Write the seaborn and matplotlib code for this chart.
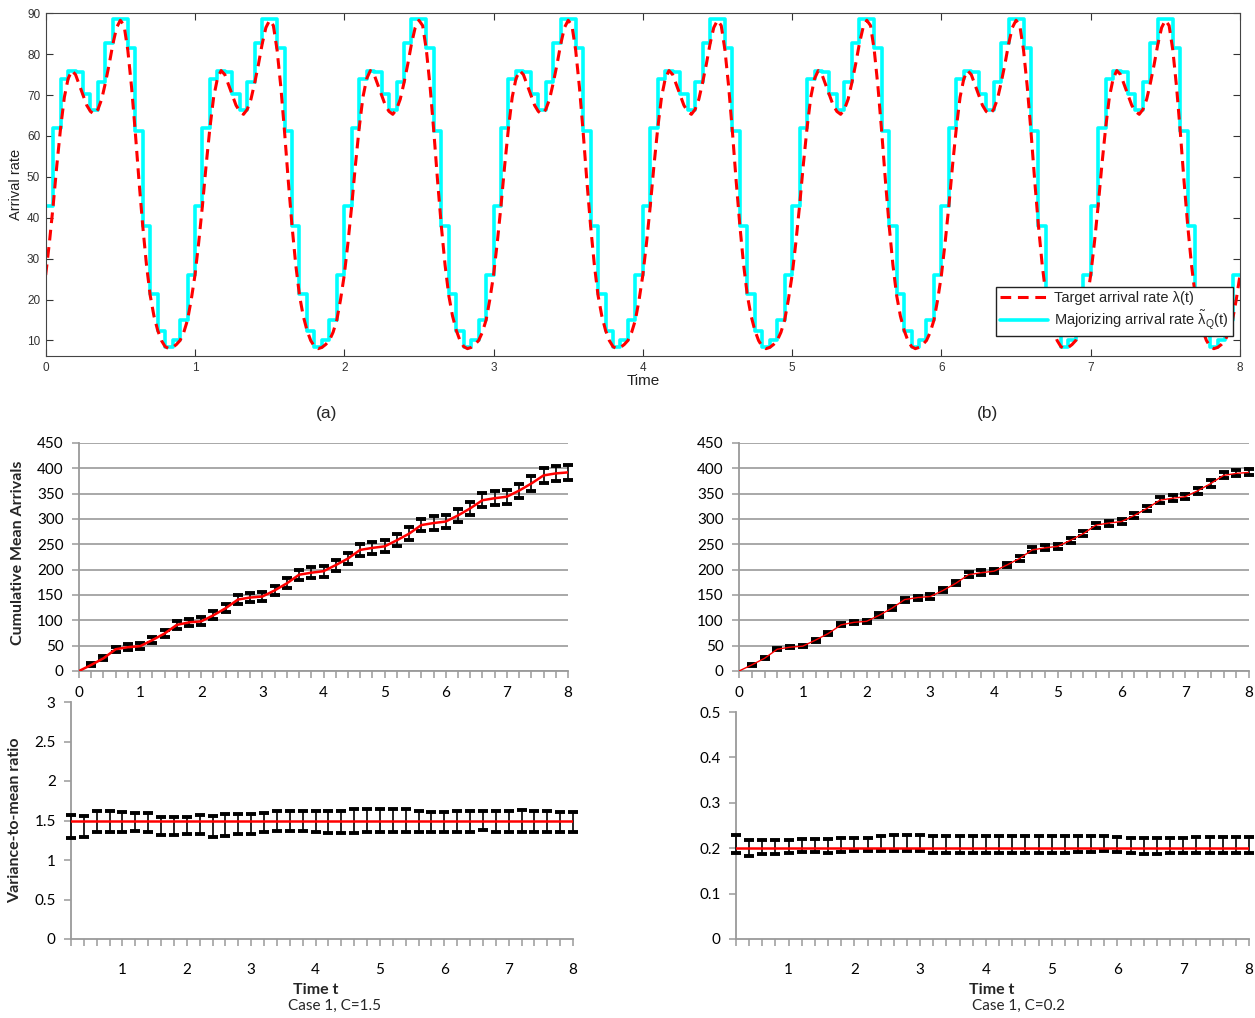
import numpy as np
import pandas as pd
import matplotlib
matplotlib.use("Agg")
import matplotlib.pyplot as plt
import seaborn as sns

sns.set_theme(style="white")
plt.rcParams['font.family'] = ['Liberation Sans', 'DejaVu Sans']
plt.rcParams['mathtext.default'] = 'regular'

#### data ####
# target arrival rate over one period, every 0.025 time units
lam_period = [26, 34, 43, 53, 62, 69.5, 74, 76, 75, 72.5,
              70, 67.5, 66, 65.3, 66.5, 69, 73, 77.5, 82.5, 86.5,
              88.3, 87, 81, 72, 61, 49, 38, 28.5, 21, 16,
              12.5, 10, 8.5, 8, 8.3, 9, 10, 12, 15, 20]
# majorizing step rate over one period, one value per 0.05 step
maj_period = [43, 62, 74, 76, 75.6, 70.2, 66.4, 73.1, 82.8, 88.6,
              88.6, 81.4, 61.1, 37.9, 21.3, 12.4, 8.5, 10, 15, 26]
n_periods = 8

# bottom panels: time points 0.2 .. 8.0
times = [round(0.2 * k, 1) for k in range(1, 41)]
cum_mean = [12, 25, 43, 47, 49, 61, 74, 91, 96, 98,
            110, 124, 141, 145, 147, 159, 173, 190, 194, 197,
            209, 222, 239, 243, 246, 258, 271, 288, 292, 295,
            307, 321, 337, 341, 344, 356, 370, 386, 390, 392]
cum_err_c15 = [3, 4, 5, 5.5, 6, 6.5, 7, 7.5, 7.5, 8,
               8, 8.5, 9, 9, 9.5, 9.5, 10, 10, 10.5, 10.5,
               11, 11, 11.5, 11.5, 12, 12, 12.5, 12.5, 13, 13,
               13.5, 13.5, 13.5, 14, 14, 14, 14.5, 14.5, 15, 15]
cum_err_c02 = [1.5, 2, 2, 2.5, 2.5, 3, 3, 3, 3.5, 3.5,
               3.5, 3.5, 4, 4, 4, 4, 4, 4.5, 4.5, 4.5,
               4.5, 4.5, 5, 5, 5, 5, 5, 5, 5, 5.5,
               5.5, 5.5, 5.5, 5.5, 5.5, 6, 6, 6, 6, 6]
vmr_lo_c15 = [1.28, 1.29, 1.36, 1.36, 1.36, 1.37, 1.35, 1.32, 1.32, 1.33,
              1.33, 1.29, 1.31, 1.33, 1.33, 1.35, 1.37, 1.37, 1.37, 1.36,
              1.34, 1.34, 1.34, 1.35, 1.35, 1.36, 1.35, 1.35, 1.35, 1.35,
              1.36, 1.36, 1.38, 1.36, 1.36, 1.36, 1.36, 1.36, 1.36, 1.36]
vmr_hi_c15 = [1.57, 1.56, 1.62, 1.62, 1.61, 1.60, 1.59, 1.54, 1.54, 1.54,
              1.57, 1.56, 1.58, 1.58, 1.58, 1.60, 1.62, 1.62, 1.62, 1.62,
              1.62, 1.62, 1.64, 1.64, 1.64, 1.64, 1.65, 1.62, 1.61, 1.61,
              1.62, 1.62, 1.62, 1.62, 1.62, 1.63, 1.62, 1.62, 1.61, 1.61]
vmr_lo_c02 = [0.189, 0.183, 0.187, 0.188, 0.190, 0.191, 0.191, 0.190, 0.192, 0.193,
              0.193, 0.193, 0.193, 0.193, 0.194, 0.190, 0.190, 0.190, 0.190, 0.190,
              0.190, 0.190, 0.190, 0.190, 0.190, 0.190, 0.191, 0.192, 0.193, 0.192,
              0.189, 0.188, 0.188, 0.189, 0.189, 0.189, 0.189, 0.189, 0.189, 0.189]
vmr_hi_c02 = [0.230, 0.217, 0.217, 0.217, 0.219, 0.220, 0.220, 0.220, 0.222, 0.223,
              0.223, 0.226, 0.228, 0.228, 0.230, 0.226, 0.226, 0.226, 0.226, 0.227,
              0.227, 0.226, 0.226, 0.226, 0.227, 0.226, 0.226, 0.226, 0.226, 0.225,
              0.223, 0.222, 0.222, 0.222, 0.223, 0.224, 0.224, 0.224, 0.224, 0.224]

W, H = 1255, 1018
fig = plt.figure(figsize=(W / 100, H / 100), dpi=100)


def rect(x0, y0, x1, y1):
    return [x0 / W, 1 - y1 / H, (x1 - x0) / W, (y1 - y0) / H]


#### (top) arrival rate panel ####
ax = fig.add_axes(rect(45.7, 13.3, 1240, 356))
lam_all = list(np.tile(lam_period, n_periods)) + [lam_period[0]]
t_lam = np.arange(len(lam_all)) * 0.025
maj_all = list(np.tile(maj_period, n_periods)) + [maj_period[-1]]
t_maj = np.arange(len(maj_all)) * 0.05

sns.lineplot(x=t_maj, y=maj_all, ax=ax, color="#00FFFF", linewidth=2.6,
             drawstyle="steps-post", label=r"Majorizing arrival rate $\tilde{\lambda}_Q(t)$")
sns.lineplot(x=t_lam, y=lam_all, ax=ax, color="#FF0000", linewidth=2.2,
             linestyle=(0, (3.5, 2.2)), label="Target arrival rate λ(t)")
ax.set_xlim(0, 8)
ax.set_ylim(6.2, 90)
ax.set_xticks(range(0, 9))
ax.set_yticks(range(10, 91, 10))
ax.tick_params(direction="in", top=True, right=True, length=5, width=0.8,
               labelsize=8.5, colors="#333333", pad=4,
               bottom=True, left=True)
for s in ax.spines.values():
    s.set_color("#444444")
    s.set_linewidth(0.8)
ax.set_xlabel("Time", fontsize=11, labelpad=0, color="#222222")
ax.set_ylabel("Arrival rate", fontsize=10.5, labelpad=3, color="#222222")
h, l = ax.get_legend_handles_labels()
ax.legend(h[::-1], l[::-1], loc="lower right", bbox_to_anchor=(0.994, 0.058),
          fancybox=False, edgecolor="#222222", framealpha=1, fontsize=10.5,
          handlelength=3.3, borderaxespad=0, borderpad=0.3, labelspacing=0.25,
          handletextpad=0.4)

fig.text(327 / W, 1 - 414 / H, "(a)", ha="center", va="center", fontsize=12.5)
fig.text(987 / W, 1 - 414 / H, "(b)", ha="center", va="center", fontsize=12.5)

#### bottom Excel-style panels ####
XL_FONT = ["Lato", "DejaVu Sans"]
GRAY = "#9A9A9A"


def excel_axes(ax, xmin, ymax, ystep, fmt):
    ax.set_xlim(xmin, 8)
    ax.set_ylim(0, ymax)
    ticks = [v for v in [0] + times if v >= xmin]
    ax.set_xticks(ticks)
    ax.set_xticklabels([str(int(round(v))) if abs(v - round(v)) < 1e-6 else "" for v in ticks])
    yt = np.arange(0, ymax + ystep / 2, ystep)
    ax.set_yticks(yt)
    ax.set_yticklabels([fmt(v) for v in yt])
    for side in ["top", "right"]:
        ax.spines[side].set_visible(False)
    for side in ["left", "bottom"]:
        ax.spines[side].set_color(GRAY)
        ax.spines[side].set_linewidth(1.3)
    ax.tick_params(axis="both", direction="out", length=5, width=1.1, color=GRAY,
                   labelsize=11, labelcolor="black", bottom=True, left=True, pad=6)
    for lab in ax.get_xticklabels() + ax.get_yticklabels():
        lab.set_family(XL_FONT)
    ax.set_xlabel("")
    ax.set_ylabel("")


def errbars(ax, mid, err, cap):
    cont = ax.errorbar(times, mid, yerr=err, fmt="none", ecolor="black",
                       elinewidth=1.2, capsize=cap, capthick=2.8, zorder=3)
    for art in cont.lines[1] + cont.lines[2]:
        art.set_clip_on(False)


def cum_panel(ax, err, lw):
    errbars(ax, cum_mean, err, 3.5)
    sns.lineplot(x=[0] + times, y=[0] + cum_mean, ax=ax, color="#FF0000",
                 linewidth=lw, zorder=4)
    ax.grid(axis="y", color=GRAY, linewidth=1.2)
    ax.set_axisbelow(True)
    excel_axes(ax, 0, 450, 50, lambda v: f"{v:.0f}")


def vmr_panel(ax, lo, hi, level, ymax, ystep):
    lo = np.array(lo)
    hi = np.array(hi)
    errbars(ax, (lo + hi) / 2, (hi - lo) / 2, 3.6)
    sns.lineplot(x=times, y=[level] * len(times), ax=ax, color="#FF0000",
                 linewidth=1.8, zorder=4)
    ax.grid(False)
    excel_axes(ax, 0.2, ymax, ystep, lambda v: f"{v:g}")
    ax.tick_params(axis="x", pad=12)


ax1 = fig.add_axes(rect(79, 443, 568, 671))
cum_panel(ax1, cum_err_c15, 1.8)
ax2 = fig.add_axes(rect(739, 443, 1249, 671))
cum_panel(ax2, cum_err_c02, 1.0)
ax3 = fig.add_axes(rect(71, 702, 573, 939))
vmr_panel(ax3, vmr_lo_c15, vmr_hi_c15, 1.5, 3, 0.5)
ax4 = fig.add_axes(rect(736, 712, 1249, 939))
vmr_panel(ax4, vmr_lo_c02, vmr_hi_c02, 0.2, 0.5, 0.1)

fig.text(18 / W, 1 - 553 / H, "Cumulative Mean Arrivals", rotation=90, ha="center",
         va="center", fontsize=11.5, fontweight="bold", family=XL_FONT)
fig.text(15 / W, 1 - 820 / H, "Variance-to-mean ratio", rotation=90, ha="center",
         va="center", fontsize=11.5, fontweight="bold", family=XL_FONT)
for xc, xs, txt in [(316, 335, "Case 1, C=1.5"), (992, 1018, "Case 1, C=0.2")]:
    fig.text(xc / W, 1 - 990 / H, "Time t", ha="center", va="center",
             fontsize=11.5, fontweight="bold", family=XL_FONT)
    fig.text(xs / W, 1 - 1006 / H, txt, ha="center", va="center",
             fontsize=11, family=XL_FONT)

fig.savefig("out.png", dpi=100, facecolor="white")
